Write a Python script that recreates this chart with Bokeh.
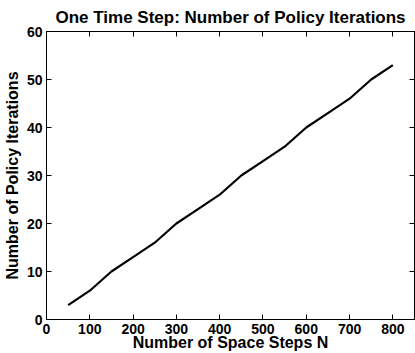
from bokeh.plotting import figure
from bokeh.models import LinearAxis, FixedTicker, Range1d
from bokeh.embed import file_html
from bokeh.resources import INLINE

# Policy iterations needed for one time step versus number of space steps N
space_steps = [50, 100, 150, 200, 250, 300, 350, 400, 450, 500, 550, 600, 650, 700, 750, 800]
policy_iterations = [3, 6, 10, 13, 16, 20, 23, 26, 30, 33, 36, 40, 43, 46, 50, 53]

x_ticks = [0, 100, 200, 300, 400, 500, 600, 700, 800]
y_ticks = [0, 10, 20, 30, 40, 50, 60]

FONT = "Liberation Sans"

p = figure(
    width=415, height=353,
    output_backend="svg", toolbar_location=None,
    x_range=Range1d(0, 850), y_range=Range1d(0, 60),
    title="One Time Step: Number of Policy Iterations",
    min_border_left=44, min_border_right=1, min_border_top=2, min_border_bottom=2,
)
p.background_fill_color = "white"
p.border_fill_color = "white"
p.outline_line_color = "black"
p.outline_line_width = 1
p.xgrid.visible = False
p.ygrid.visible = False

p.title.text_font = FONT
p.title.text_font_size = "17px"
p.title.text_font_style = "bold"
p.title.align = "center"
p.title.text_color = "black"
p.title.standoff = 10

p.line(space_steps, policy_iterations, line_color="black", line_width=2.2)

def style_axis(ax, ticks, show_labels=True):
    ax.ticker = FixedTicker(ticks=ticks)
    ax.major_tick_in = 5
    ax.major_tick_out = 0
    ax.minor_tick_line_color = None
    ax.axis_line_color = "black"
    ax.major_tick_line_color = "black"
    ax.major_label_text_font = FONT
    ax.major_label_text_font_style = "bold"
    ax.major_label_text_color = "black"
    ax.major_label_text_font_size = "14px"
    if not show_labels:
        ax.major_label_overrides = {t: "" for t in ticks}
    ax.axis_label_text_font = FONT
    ax.axis_label_text_font_style = "bold"
    ax.axis_label_text_font_size = "16px"
    ax.axis_label_text_color = "black"

style_axis(p.xaxis[0], x_ticks)
style_axis(p.yaxis[0], y_ticks)
p.xaxis.axis_label = "Number of Space Steps N"
p.yaxis.axis_label = "Number of Policy Iterations"
p.xaxis.major_label_standoff = 4
p.yaxis.major_label_standoff = 4
p.xaxis.axis_label_standoff = -3
p.yaxis.axis_label_standoff = 3

top = LinearAxis()
style_axis(top, x_ticks, show_labels=False)
top.major_label_standoff = 0
p.add_layout(top, "above")

right = LinearAxis()
style_axis(right, y_ticks, show_labels=False)
right.major_label_standoff = 0
p.add_layout(right, "right")

open("out.html", "w").write(file_html(p, INLINE))
